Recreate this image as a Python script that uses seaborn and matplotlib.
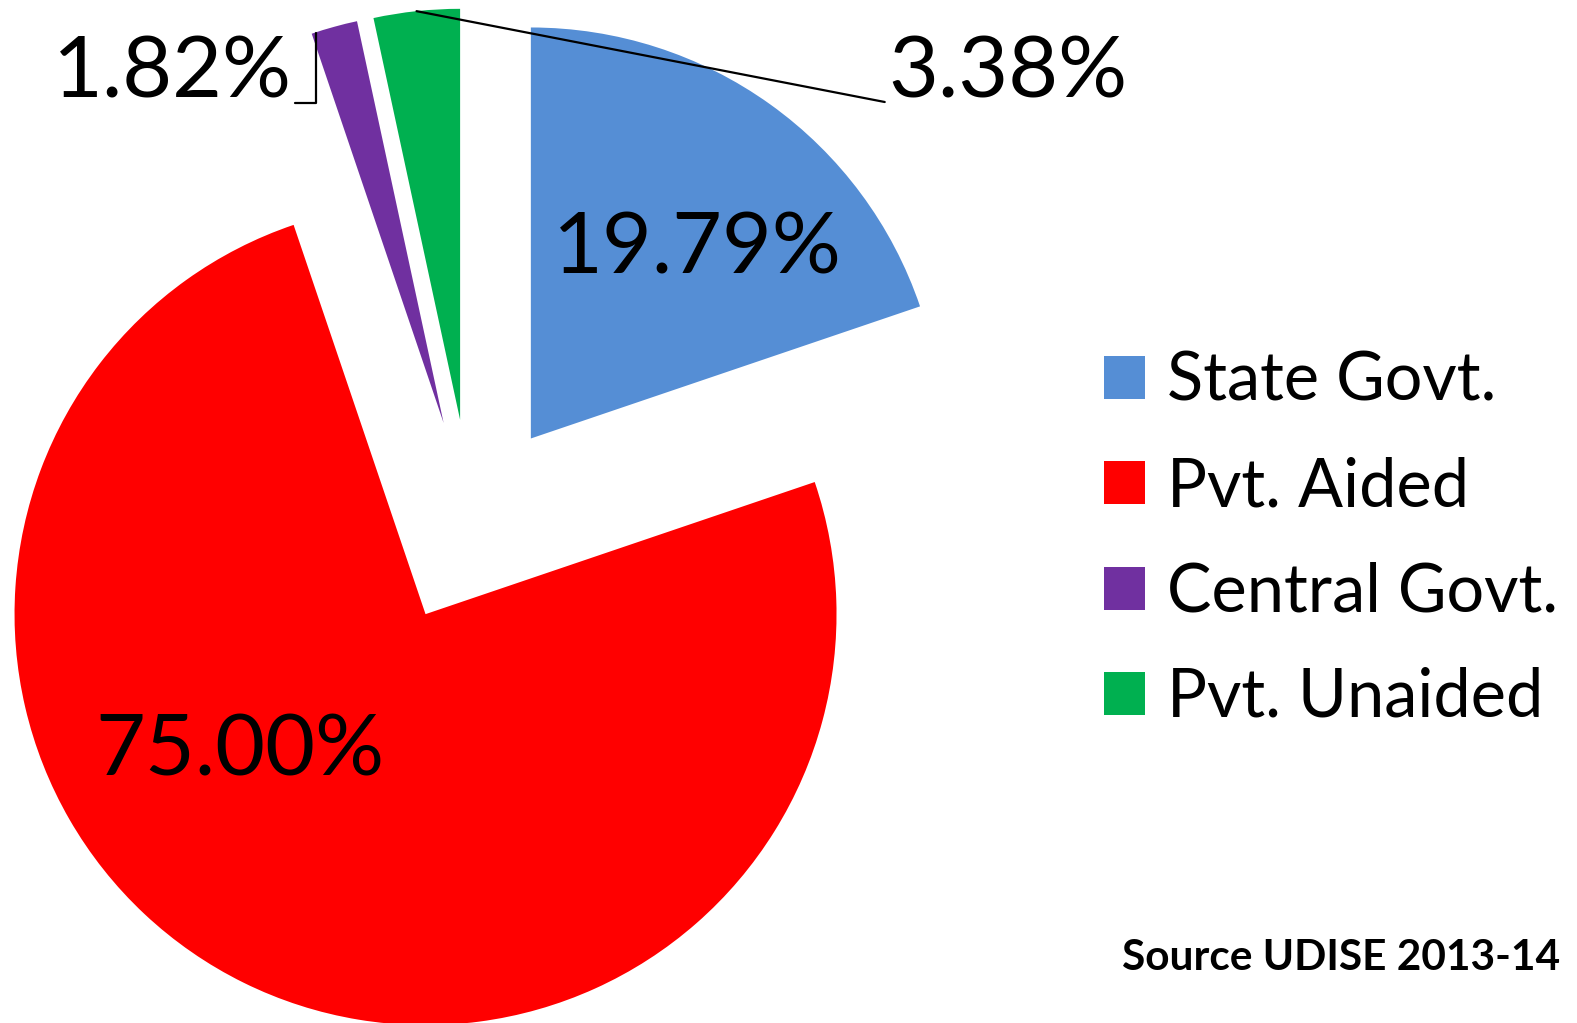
import matplotlib
matplotlib.use("Agg")
import matplotlib.pyplot as plt
import seaborn as sns
import numpy as np

# data
categories = ["State Govt.", "Pvt. Aided", "Central Govt.", "Pvt. Unaided"]
shares = [19.79, 75.00, 1.82, 3.38]
pct_labels = ["19.79%", "75.00%", "1.82%", "3.38%"]
colors = ["#558ED5", "#FF0000", "#7030A0", "#00B050"]

sns.set_theme(style="white")
plt.rcParams["font.family"] = ["Lato", "DejaVu Sans"]
plt.rcParams["text.color"] = "black"

W, H = 1577, 1023
fig = plt.figure(figsize=(W / 100, H / 100), dpi=100)
ax = fig.add_axes([0, 0, 1, 1])

R = 411
C = (471, 501)
EXPL = 0.25 * R  # pie() explodes in data units
wedges, _ = ax.pie(
    shares,
    colors=colors,
    startangle=90,
    counterclock=False,
    explode=[EXPL] * len(shares),
    radius=R,
    center=C,
    wedgeprops=dict(linewidth=0),
)
ax.set_xlim(0, W)
ax.set_ylim(0, H)
ax.set_aspect("equal")
ax.axis("off")


def outer_mid(w):
    ang = np.deg2rad((w.theta1 + w.theta2) / 2)
    cx, cy = w.center
    return cx + w.r * np.cos(ang), cy + w.r * np.sin(ang)


# inside labels
ax.text(697, H - 250, pct_labels[0], fontsize=62, ha="center", va="center")
ax.text(240, H - 752, pct_labels[1], fontsize=62, ha="center", va="center")

# outside labels with leader lines
line_kw = dict(arrowstyle="-", color="black", lw=1.6, shrinkA=0, shrinkB=0)
px, py = outer_mid(wedges[2])
ax.annotate(pct_labels[2], xy=(px - 18, py - 6), xytext=(292, H - 97), fontsize=62,
            ha="right", va="baseline",
            arrowprops=dict(line_kw, relpos=(1, 0.12),
                            connectionstyle="angle,angleA=0,angleB=90,rad=0"))
gx, gy = outer_mid(wedges[3])
ax.annotate(pct_labels[3], xy=(gx, gy), xytext=(888, H - 97), fontsize=62,
            ha="left", va="baseline",
            arrowprops=dict(line_kw, relpos=(0, 0.12)))

leg = ax.legend(
    wedges, categories,
    loc="upper left",
    bbox_to_anchor=(1104 / W, 1 - 351 / H),
    frameon=False,
    fontsize=48,
    handlelength=0.615,
    handleheight=0.615,
    handletextpad=0.33,
    labelspacing=0.65,
    borderpad=0,
    borderaxespad=0,
)

ax.text(1560, H - 958, "Source UDISE 2013-14", fontsize=30.5, fontweight="bold",
        ha="right", va="center")

fig.savefig("out.png", dpi=100)
